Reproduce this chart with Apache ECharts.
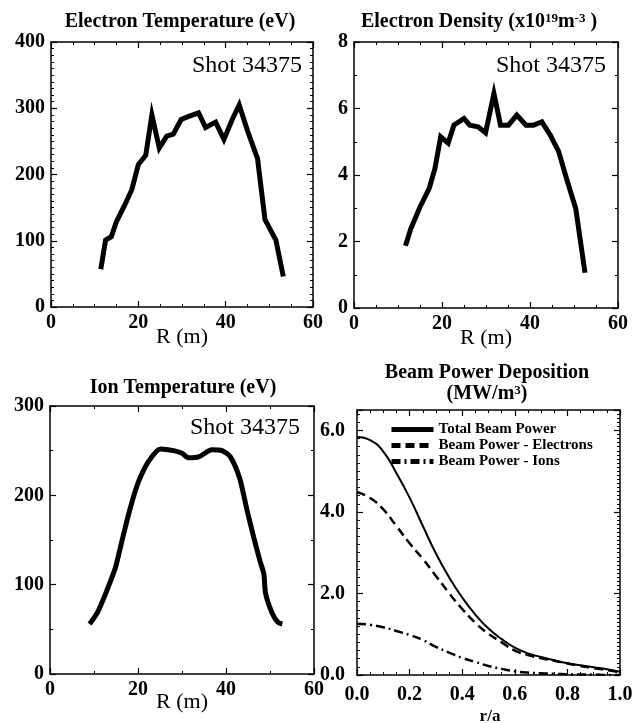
<!DOCTYPE html>
<html>
<head>
<meta charset="utf-8">
<script src="https://cdn.jsdelivr.net/npm/echarts@6/dist/echarts.min.js"></script>
<style>
  html, body { margin: 0; padding: 0; background: #fff; }
  #chart { width: 641px; height: 723px; }
</style>
</head>
<body>
<div id="chart"></div>
<script>
// electron temperature profile (eV) vs R (m)
const teR = [11.4, 12.5, 13.8, 15, 16.9, 18.5, 20, 21.7, 23.1, 24.8, 26.5, 28, 29.8, 31.7, 33.8, 35.4, 37.7, 39.6, 41.5, 43.1, 45, 47.3, 49, 51.5, 53.2]
const teVal = [57, 101, 106, 129, 154, 177, 215, 229, 290, 240, 258, 261, 283, 288, 293, 271, 279, 253, 283, 305, 266, 224, 132, 101, 46]

// electron density (x10^19 m^-3) vs R (m)
const neR = [11.7, 12.9, 15, 17.1, 18.4, 19.7, 21.4, 22.7, 25, 26.3, 28.2, 29.9, 31.8, 33.3, 35.1, 37, 39.1, 40.8, 42.7, 44.6, 46.5, 48.4, 50.4, 52.5]
const neVal = [1.87, 2.38, 3.04, 3.6, 4.2, 5.15, 4.96, 5.5, 5.7, 5.5, 5.45, 5.27, 6.45, 5.5, 5.5, 5.8, 5.5, 5.5, 5.6, 5.2, 4.71, 3.85, 2.99, 1.06]

// ion temperature (eV) vs R (m)
const tiR = [9.0, 10.8, 12.8, 14.8, 16.3, 18.2, 20.1, 22.4, 25.1, 28.1, 30, 31.5, 33.8, 36.8, 39.1, 41, 43.1, 44.8, 46.3, 47.7, 48.6, 49, 50.5, 51.8, 52.8]
const tiVal = [56, 69, 92, 118, 148, 185, 215, 238, 252, 250, 247, 242, 243, 251, 250, 243, 219, 183, 153, 127, 112, 90, 68, 58, 56]

// beam power deposition (MW/m3) vs r/a
const beamR = [0, 0.05, 0.1, 0.15, 0.2, 0.25, 0.3, 0.35, 0.4, 0.45, 0.5, 0.55, 0.6, 0.65, 0.7, 0.75, 0.8, 0.85, 0.9, 0.95, 1.0]
const beamTotal = [5.84, 5.76, 5.48, 4.95, 4.35, 3.66, 2.98, 2.40, 1.90, 1.48, 1.14, 0.88, 0.67, 0.53, 0.44, 0.36, 0.29, 0.24, 0.19, 0.14, 0.08]
const beamElec = [4.49, 4.34, 4.06, 3.65, 3.23, 2.85, 2.43, 2.01, 1.62, 1.28, 1.01, 0.80, 0.60, 0.49, 0.41, 0.35, 0.28, 0.22, 0.17, 0.12, 0.07]
const beamIons = [1.26, 1.23, 1.17, 1.08, 0.98, 0.86, 0.69, 0.55, 0.42, 0.32, 0.22, 0.15, 0.09, 0.06, 0.04, 0.03, 0.02, 0.01, 0.01, 0.0, 0.0]

const shotLabel = 'Shot 34375'

const serif = 'Liberation Serif'
const black = '#000'

function pairs(xs, ys) {
  return xs.map((x, i) => [x, ys[i]])
}

// one axis (bottom/top or left/right) of a framed panel
function axis(gridIndex, position, range, labelled, extra) {
  const a = {
    type: 'value',
    gridIndex: gridIndex,
    position: position,
    min: range.min,
    max: range.max,
    interval: range.interval,
    axisLine: { show: true, onZero: false, lineStyle: { color: black, width: 1.5 } },
    axisTick: { show: true, inside: true, length: 6, lineStyle: { color: black, width: 1.2 } },
    minorTick: { show: true, splitNumber: range.minor, length: 3, lineStyle: { color: black, width: 1 } },
    splitLine: { show: false },
    minorSplitLine: { show: false },
    axisLabel: {
      show: labelled,
      color: black,
      fontFamily: serif,
      fontWeight: 'bold',
      fontSize: 20,
      margin: 6,
      showMaxLabel: range.showMax !== false
    }
  }
  return Object.assign(a, extra || {})
}

function rName(gap) {
  return {
    name: 'R (m)',
    nameLocation: 'middle',
    nameGap: gap,
    nameMoveOverlap: false,
    nameTextStyle: { color: black, fontFamily: serif, fontSize: 22 }
  }
}

const grids = [
  { left: 51, top: 42, width: 262, height: 265 },
  { left: 354, top: 42, width: 264, height: 266 },
  { left: 50, top: 406, width: 264, height: 268 },
  { left: 357, top: 410, width: 263, height: 265 }
]

const xR1 = { min: 0, max: 60, interval: 20, minor: 4 }
const xR3 = { min: 0, max: 60, interval: 20, minor: 2 }
const y1 = { min: 0, max: 400, interval: 100, minor: 10 }
const y2 = { min: 0, max: 8, interval: 2, minor: 2 }
const y3 = { min: 0, max: 300, interval: 100, minor: 2 }
const xB = { min: 0, max: 1, interval: 0.2, minor: 4 }
const yB = { min: 0, max: 6.5, interval: 2, minor: 10, showMax: false }
const yBr = { min: 0, max: 6.5, interval: 2, minor: 20, showMax: false }

const label1 = { show: true, color: black, fontFamily: serif, fontWeight: 'bold', fontSize: 20, formatter: v => v.toFixed(1) }

const xAxes = [
  axis(0, 'bottom', xR1, true, rName(19)),
  axis(0, 'top', xR1, false),
  axis(1, 'bottom', xR1, true, rName(19)),
  axis(1, 'top', xR1, false),
  axis(2, 'bottom', xR3, true, rName(17)),
  axis(2, 'top', xR3, false),
  axis(3, 'bottom', xB, true, { axisLabel: Object.assign({}, label1, { margin: 10 }) }),
  axis(3, 'top', xB, false)
]

const yAxes = [
  axis(0, 'left', y1, true),
  axis(0, 'right', y1, false),
  axis(1, 'left', y2, true),
  axis(1, 'right', y2, false),
  axis(2, 'left', y3, true),
  axis(2, 'right', y3, false),
  axis(3, 'left', yB, true, { axisLabel: Object.assign({}, label1, { margin: 12, showMaxLabel: false }) }),
  axis(3, 'right', yBr, false)
]

const thick = { color: black, width: 5, join: 'miter', miterLimit: 10 }
const titleFont = 'bold 20px "Liberation Serif"'
const shotFont = '24px "Liberation Serif"'
const supStyle = { fontFamily: serif, fontWeight: 'bold', fontSize: 13, verticalAlign: 'top', lineHeight: 12 }

const option = {
  animation: false,
  backgroundColor: '#fff',
  grid: grids,
  xAxis: xAxes,
  yAxis: yAxes,
  legend: {
    orient: 'vertical',
    left: 384,
    top: 417,
    itemWidth: 42,
    itemHeight: 8,
    itemGap: 1,
    lineStyle: { width: 5 },
    itemStyle: { color: 'rgba(0,0,0,0)', borderWidth: 0, opacity: 0 },
    textStyle: { color: black, fontFamily: serif, fontWeight: 'bold', fontSize: 15, lineHeight: 15 },
    data: ['Total Beam Power', 'Beam Power - Electrons', 'Beam Power - Ions']
  },
  series: [
    { type: 'line', xAxisIndex: 0, yAxisIndex: 0, symbol: 'none', lineStyle: thick, data: pairs(teR, teVal) },
    { type: 'line', xAxisIndex: 2, yAxisIndex: 2, symbol: 'none', lineStyle: thick, data: pairs(neR, neVal) },
    { type: 'line', xAxisIndex: 4, yAxisIndex: 4, symbol: 'none', smooth: 0.25, lineStyle: { color: black, width: 5 }, data: pairs(tiR, tiVal) },
    {
      name: 'Total Beam Power', type: 'line', xAxisIndex: 6, yAxisIndex: 6, symbol: 'none', smooth: true,
      itemStyle: { color: black },
      lineStyle: { color: black, width: 2 }, data: pairs(beamR, beamTotal)
    },
    {
      name: 'Beam Power - Electrons', type: 'line', xAxisIndex: 6, yAxisIndex: 6, symbol: 'none', smooth: true,
      itemStyle: { color: black },
      lineStyle: { color: black, width: 2.5, type: [9, 5] }, data: pairs(beamR, beamElec)
    },
    {
      name: 'Beam Power - Ions', type: 'line', xAxisIndex: 6, yAxisIndex: 6, symbol: 'none', smooth: true,
      itemStyle: { color: black },
      lineStyle: { color: black, width: 2.5, type: [9, 4, 2, 4] }, data: pairs(beamR, beamIons)
    }
  ],
  graphic: [
    { type: 'text', x: 180, y: 22, style: { text: 'Electron Temperature (eV)', fill: black, font: titleFont, textAlign: 'center', textVerticalAlign: 'middle' } },
    {
      type: 'text', x: 479, y: 22,
      style: {
        text: 'Electron Density (x10{sup|19}m{sup|-3} )',
        fill: black, font: titleFont, textAlign: 'center', textVerticalAlign: 'middle',
        rich: { sup: supStyle }
      }
    },
    { type: 'text', x: 183, y: 388, style: { text: 'Ion Temperature (eV)', fill: black, font: titleFont, textAlign: 'center', textVerticalAlign: 'middle' } },
    { type: 'text', x: 487, y: 373, style: { text: 'Beam Power Deposition', fill: black, font: titleFont, textAlign: 'center', textVerticalAlign: 'middle' } },
    {
      type: 'text', x: 487, y: 394,
      style: {
        text: '(MW/m{sup|3})',
        fill: black, font: titleFont, textAlign: 'center', textVerticalAlign: 'middle',
        rich: { sup: supStyle }
      }
    },
    { type: 'text', x: 490, y: 717, style: { text: 'r/a', fill: black, font: 'bold 17px "Liberation Serif"', textAlign: 'center', textVerticalAlign: 'middle' } },
    { type: 'text', x: 302, y: 66, style: { text: shotLabel, fill: black, font: shotFont, textAlign: 'right', textVerticalAlign: 'middle' } },
    { type: 'text', x: 606, y: 66, style: { text: shotLabel, fill: black, font: shotFont, textAlign: 'right', textVerticalAlign: 'middle' } },
    { type: 'text', x: 300, y: 428, style: { text: shotLabel, fill: black, font: shotFont, textAlign: 'right', textVerticalAlign: 'middle' } }
  ]
}

const myChart = echarts.init(document.getElementById('chart'), null, { renderer: 'canvas' })
myChart.setOption(option)
</script>
</body>
</html>
